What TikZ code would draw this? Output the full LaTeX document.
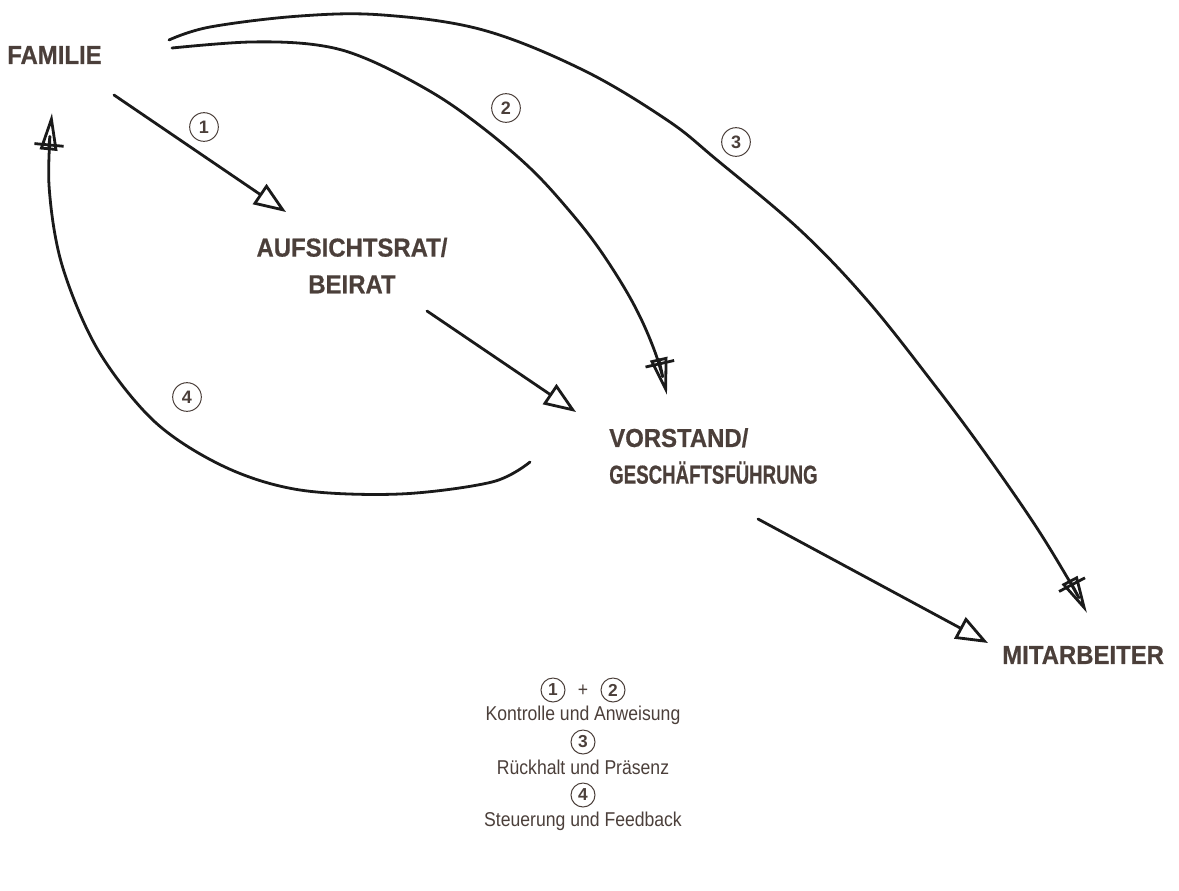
\documentclass[tikz,border=0pt]{standalone}
\usepackage{fontspec}
\usetikzlibrary{arrows.meta}
\setmainfont{Liberation Sans}
\newfontfamily\hfont{Liberation Sans}[FakeStretch=0.92, BoldFeatures={FakeBold=0.6}]
\newfontfamily\lfont{Liberation Sans}[FakeStretch=0.88]
\definecolor{txt}{HTML}{4B3F3A}
\definecolor{ink}{HTML}{1A1A1A}
\tikzset{
  con/.style={line width=2.1pt, draw=ink, line cap=round, line join=round},
  tri/.style={-{Triangle[open,length=24pt,width=18pt]}},
  xtri/.style={-{Bar[width=22pt,sep=-5pt]Triangle[open,length=28pt,width=13pt]}},
  head/.style={text=txt, font=\hfont\bfseries\fontsize{19.5}{27.5}\selectfont, inner sep=0pt},
  num/.style={circle, draw=txt, line width=0.75pt, text=txt, inner sep=0pt, minimum size=21.5pt, font=\bfseries\fontsize{13.5}{13.5}\selectfont},
  lnum/.style={num, minimum size=18pt, font=\bfseries\fontsize{13}{13}\selectfont},
  leg/.style={text=txt, font=\lfont\fontsize{15}{16}\selectfont, inner sep=0pt},
}
\begin{document}
\begin{tikzpicture}[x=0.75pt,y=-0.75pt]
\useasboundingbox (0,0) rectangle (1179,890);
% headings
\node[head, anchor=west] (fam) at (7,55) {FAMILIE};
\node[head, align=center] (ar) at (352,265.5) {AUFSICHTSRAT/\\BEIRAT};
\node[head, align=left, anchor=west] (vo) at (609,456) {VORSTAND/\\\scalebox{0.78}[1]{GESCHÄFTSFÜHRUNG}};
\node[head, anchor=west] (mi) at (1002,655) {MITARBEITER};
% diagram numbers
\node[num] (n1) at (204,127) {1};
\node[num] (n2) at (506,108) {2};
\node[num] (n3) at (736,142) {3};
\node[num] (n4) at (187,397) {4};
% connector end points
\coordinate (a1s) at (114,95);
\coordinate (a1e) at (286,212);
\coordinate (b1s) at (427,311);
\coordinate (b1e) at (576,412);
\coordinate (c1s) at (758,519);
\coordinate (c1e) at (988,643);
\coordinate (a2s) at (172,48);
\coordinate (a2e) at (667,395);
\coordinate (a3s) at (169,40);
\coordinate (a3e) at (1087,613);
\coordinate (a4s) at (530,462);
\coordinate (a4e) at (52,113);
% connectors
\draw[con, tri] (a1s) -- (a1e);
\draw[con, tri] (b1s) -- (b1e);
\draw[con, tri] (c1s) -- (c1e);
\draw[con, xtri] plot[smooth, tension=0.6] coordinates {(a2s) (250,42) (317,45) (367,59) (433,93) (483,128) (530,168) (567,208) (600,250) (633,303) (655,352) (a2e)};
\draw[con, xtri] plot[smooth, tension=0.6] coordinates {(a3s) (210,27) (300,16) (383,15) (483,30) (583,70) (667,120) (717,160) (800,230) (867,300) (933,383) (983,450) (1033,522) (1067,577) (a3e)};
\draw[con, xtri] plot[smooth, tension=0.55] coordinates {(a4s) (492,482) (400,494) (300,490) (225,467) (155,422) (98,350) (62,265) (49,185) (a4e)};
% legend
\node[lnum] (l1) at (553,690) {1};
\node[leg] (plus) at (583,691) {+};
\node[lnum] (l2) at (613,690) {2};
\node[leg] (t1) at (583,715) {Kontrolle und Anweisung};
\node[lnum] (l3) at (583,742) {3};
\node[leg] (t3) at (583,767) {Rückhalt und Präsenz};
\node[lnum] (l4) at (583,795) {4};
\node[leg] (t4) at (583,821) {Steuerung und Feedback};
\end{tikzpicture}
\end{document}
